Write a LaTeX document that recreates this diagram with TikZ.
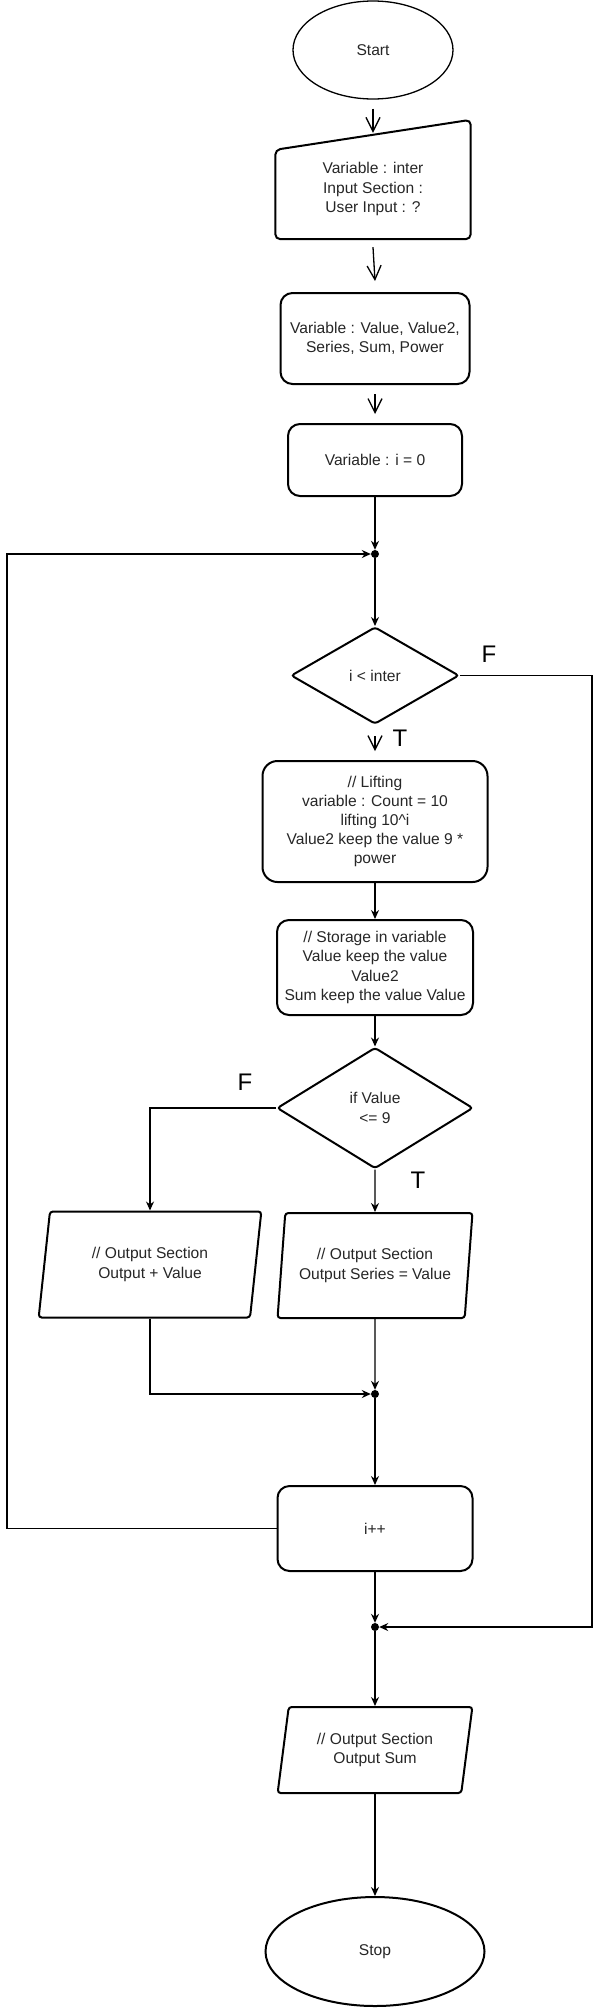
\documentclass[tikz,border=0pt]{standalone}
\usepackage{fontspec}
\setmainfont{Liberation Sans}
\usetikzlibrary{shapes.geometric,arrows.meta}

\begin{document}
\begin{tikzpicture}[x=1pt,y=-1pt,
  every node/.style={font=\fontsize{15.6}{19.2}\selectfont,text=black!85,align=center,inner sep=0pt},
  term/.style={ellipse,draw},
  proc/.style={rectangle,draw,line width=2pt,rounded corners=12pt},
  decision/.style={diamond,draw,line width=2pt,rounded corners=3pt},
  io/.style={trapezium,trapezium left angle=79,trapezium right angle=101,trapezium stretches=true,draw,line width=2pt,rounded corners=3pt},
  joint/.style={circle,fill=black,minimum size=8pt},
  flow/.style={line width=1.3pt,-{Stealth[length=9pt,width=8pt]}},
  drop/.style={line width=1.3pt,-{Straight Barb[length=14pt,width=14pt]}},
  tf/.style={font=\fontsize{24}{28}\selectfont,text=black}]
  \useasboundingbox (0,0) rectangle (601,2008);

  % main column
  \node[term,line width=1.3pt,minimum width=160pt,minimum height=98pt] (start) at (373,50) {Start};
  \node[minimum width=195pt,minimum height=100pt] (input) at (373,189) {Variable : inter\\Input Section :\\User Input : ?};
  \draw[line width=2pt,rounded corners=5pt] (input.south west) -- ([yshift=-11pt]input.north west) -- ([yshift=19pt]input.north east) -- (input.south east) -- cycle;
  \node[proc,minimum width=189pt,minimum height=91pt] (vars) at (375,338.5) {Variable : Value, Value2,\\Series, Sum, Power};
  \node[proc,minimum width=174pt,minimum height=72pt] (init) at (375,460) {Variable : i = 0};
  \node[joint] (loopj) at (375,554) {};
  \node[decision,minimum width=168pt,minimum height=97pt] (cond) at (375,675.5) {i < inter};
  \node[proc,rounded corners=15pt,minimum width=225pt,minimum height=121pt] (lift) at (375,821.5) {// Lifting\\variable : Count = 10\\lifting 10\textasciicircum i\\Value2 keep the value 9 *\\power};
  \node[proc,minimum width=196pt,minimum height=95pt] (store) at (375,967.5) {// Storage in variable\\Value keep the value\\Value2\\Sum keep the value Value};
  \node[decision,minimum width=196pt,minimum height=121pt] (check) at (375,1108) {if Value\\<= 9};
  \node[io,minimum width=223pt,minimum height=106pt] (outplus) at (150,1264.5) {// Output Section\\Output + Value};
  \node[io,minimum width=195pt,minimum height=105pt] (outseries) at (375,1265.5) {// Output Section\\Output Series = Value};
  \node[joint] (mergej) at (375,1394) {};
  \node[proc,minimum width=195pt,minimum height=85pt] (incr) at (375,1528.5) {i++};
  \node[joint] (exitj) at (375,1627) {};
  \node[io,trapezium left angle=77.5,trapezium right angle=102.5,minimum width=195pt,minimum height=86pt] (outsum) at (375,1750) {// Output Section\\Output Sum};
  \node[term,line width=2pt,minimum width=219pt,minimum height=109pt] (stop) at (375,1951.5) {Stop};

  % branch labels
  \node[tf] (f1) at (489,654) {F};
  \node[tf] (t1) at (400,738) {T};
  \node[tf] (f2) at (245,1082) {F};
  \node[tf] (t2) at (418,1180) {T};

  % connectors
  \draw[drop] ([yshift=-9pt]start.south) -- ([yshift=6pt]input.north);
  \draw[drop] ([yshift=-8pt]input.south) -- ([yshift=11pt]vars.north);
  \draw[drop] ([yshift=-9pt]vars.south) -- ([yshift=9pt]init.north);
  \draw[flow] (init) -- (loopj);
  \draw[flow] (loopj) -- (cond);
  \draw[flow] (cond.east) -- (592,675.5) |- (exitj);
  \draw[drop] ([yshift=-11pt]cond.south) -- ([yshift=9pt]lift.north);
  \draw[flow] (lift) -- (store);
  \draw[flow] (store) -- (check);
  \draw[flow] (check.west) -| (outplus.north -| outplus.center);
  \draw[flow] (check) -- (outseries);
  \draw[flow] (outplus.south -| outplus.center) |- (mergej);
  \draw[flow] (outseries) -- (mergej);
  \draw[flow] (mergej) -- (incr);
  \draw[flow] (incr.west) -| (7,554) -- (loopj);
  \draw[flow] (incr) -- (exitj);
  \draw[flow] (exitj) -- (outsum);
  \draw[flow] (outsum) -- (stop);
\end{tikzpicture}
\end{document}
